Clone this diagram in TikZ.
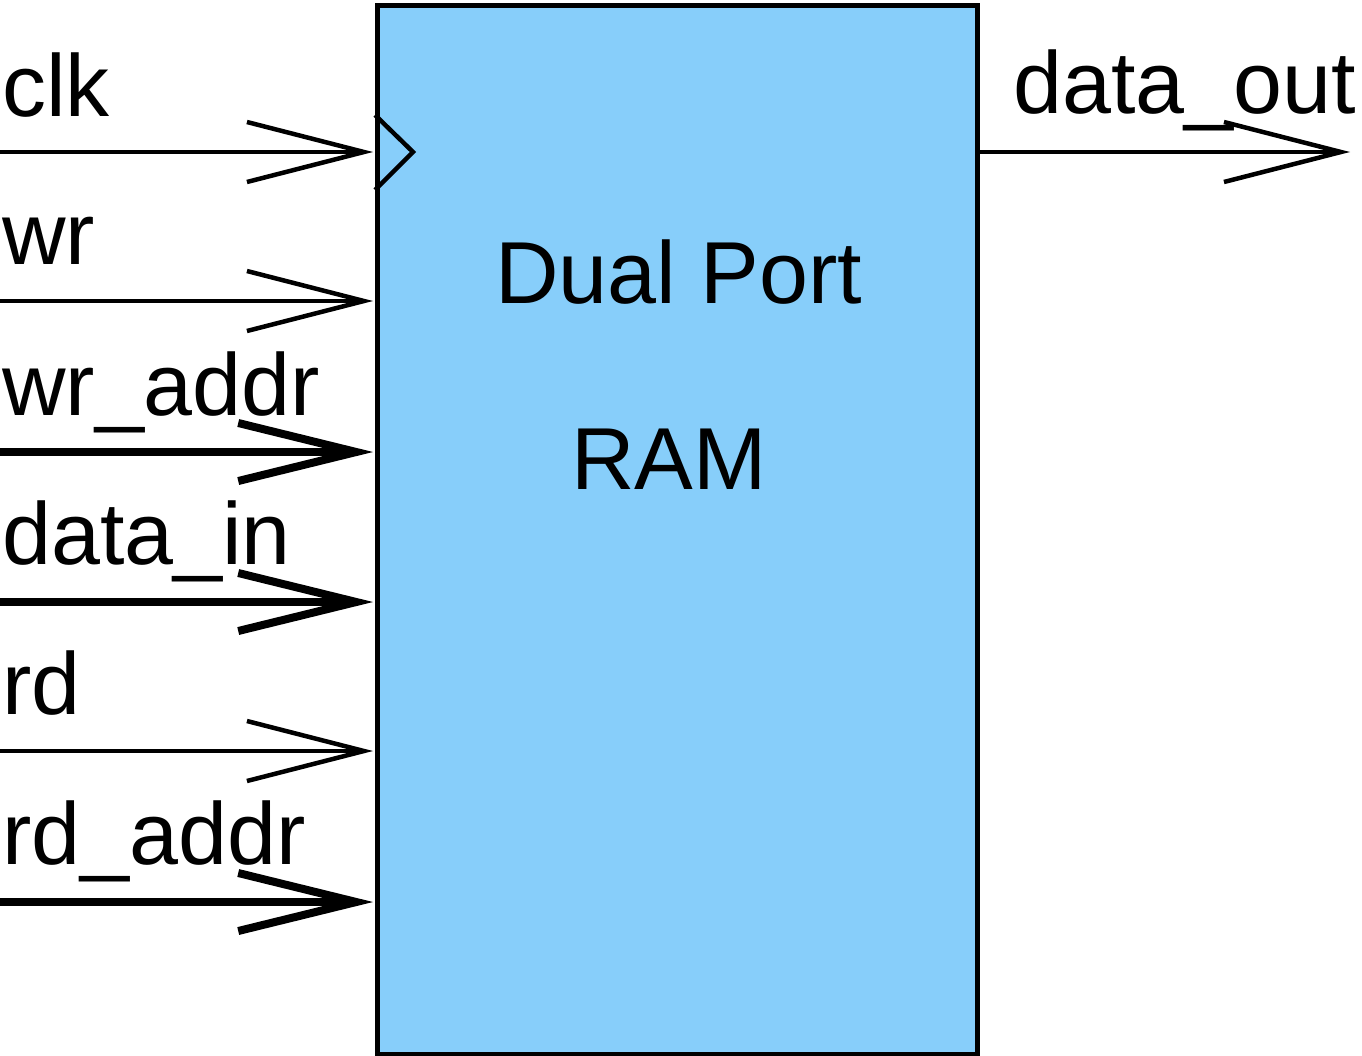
\documentclass[tikz,border=0pt]{standalone}
\usepackage{fontspec}
\setmainfont{Liberation Sans}
\usetikzlibrary{arrows.meta}
\definecolor{boxblue}{RGB}{135,206,250}
\begin{document}
\begin{tikzpicture}[x=1pt,y=-1pt,
  lbl/.style={anchor=base west, inner sep=0pt, font=\fontsize{88}{100}\selectfont},
  thinarr/.style={line width=4.5pt, -{Straight Barb[length=117pt,width=60pt,line cap=butt]}},
  thickarr/.style={line width=8pt, -{Straight Barb[length=118pt,width=58pt,line cap=butt]}}]
\useasboundingbox (0,0) rectangle (1362,1055);
\node[draw, fill=boxblue, line width=4.5pt, minimum width=600pt, minimum height=1049pt,
  inner sep=0pt, anchor=north west] (ram) at (375,3) {};
\draw[line width=4.5pt] (375,115) -- (413,152) -- (375,190);
\node[lbl] (t1) at (495,303) {Dual Port};
\node[lbl] (t2) at (571,489) {RAM};
% ports
\foreach \n/\y in {clk/152, wr/301, wraddr/452, datain/602, rd/751, rdaddr/902}{
  \coordinate (s\n) at (0,\y);
  \coordinate (p\n) at (373,\y);
}
\coordinate (odo) at (975,152);
\coordinate (tdo) at (1350,152);
\draw[thinarr] (sclk) -- (pclk);
\draw[thinarr] (swr) -- (pwr);
\draw[thickarr] (swraddr) -- (pwraddr);
\draw[thickarr] (sdatain) -- (pdatain);
\draw[thinarr] (srd) -- (prd);
\draw[thickarr] (srdaddr) -- (prdaddr);
\draw[thinarr] (odo) -- (tdo);
% labels
\node[lbl] (lclk) at (2,116) {clk};
\node[lbl] (lwr) at (2,264) {wr};
\node[lbl] (lwraddr) at (2,415) {wr\_addr};
\node[lbl] (ldatain) at (2,564) {data\_in};
\node[lbl] (lrd) at (2,714) {rd};
\node[lbl] (lrdaddr) at (2,864) {rd\_addr};
\node[lbl] (ldo) at (1013,113) {data\_out};
\end{tikzpicture}
\end{document}
